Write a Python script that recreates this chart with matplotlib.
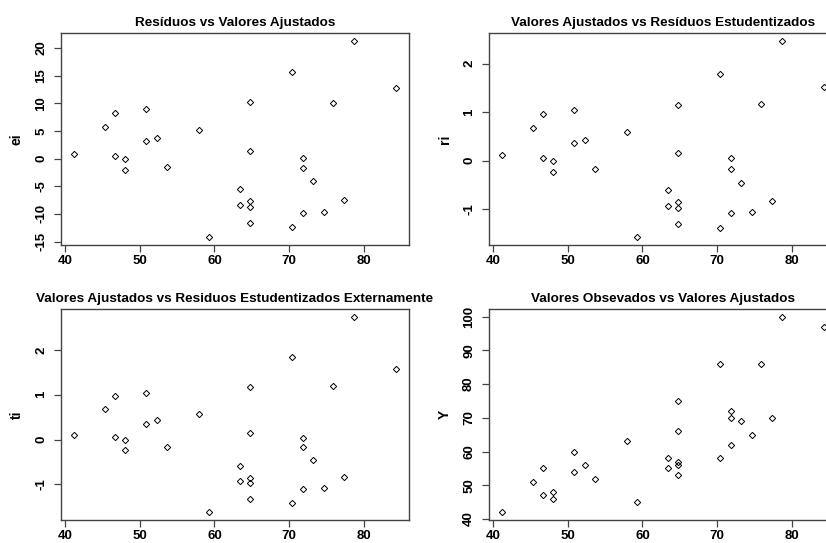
import numpy as np
import matplotlib
matplotlib.use("Agg")
import matplotlib.pyplot as plt

plt.rcParams['font.family'] = ['Liberation Sans', 'DejaVu Sans']
plt.rcParams['axes.unicode_minus'] = False

# valores ajustados
ajustados = [41.2, 45.3, 46.7, 46.7, 48.1, 48.1, 50.9, 50.9, 52.3, 53.7,
             57.9, 59.3, 63.4, 63.4, 64.8, 64.8, 64.8, 64.8, 64.8, 70.4,
             70.4, 71.8, 71.8, 71.8, 73.2, 74.6, 75.9, 77.3, 78.7, 84.3]
# valores observados
observados = [42, 51, 55, 47, 48, 46, 60, 54, 56, 52,
              63, 45, 58, 55, 75, 66, 57, 56, 53, 86,
              58, 72, 70, 62, 69, 65, 86, 70, 100, 97]
# residuos
residuos = [0.8, 5.7, 8.3, 0.4, -0.1, -2.0, 9.0, 3.1, 3.7, -1.6,
            5.2, -14.2, -5.5, -8.3, 10.2, 1.3, -7.7, -8.8, -11.7, 15.6,
            -12.3, 0.2, -1.7, -9.8, -4.0, -9.7, 10.1, -7.4, 21.3, 12.7]
# residuos estudentizados
r_est = [0.12, 0.67, 0.97, 0.05, -0.01, -0.24, 1.04, 0.36, 0.43, -0.18,
         0.59, -1.58, -0.60, -0.93, 1.15, 0.15, -0.86, -0.97, -1.31, 1.78,
         -1.39, 0.05, -0.18, -1.09, -0.46, -1.07, 1.16, -0.83, 2.47, 1.52]
# residuos estudentizados externamente
t_ext = [0.11, 0.68, 0.98, 0.05, 0.0, -0.23, 1.05, 0.35, 0.43, -0.17,
         0.58, -1.62, -0.59, -0.93, 1.17, 0.14, -0.85, -0.97, -1.32, 1.84,
         -1.42, 0.04, -0.17, -1.10, -0.46, -1.08, 1.19, -0.83, 2.74, 1.58]

paineis = [
    ("Resíduos vs Valores Ajustados", "ei", residuos, np.arange(-15, 21, 5)),
    ("Valores Ajustados vs Resíduos Estudentizados", "ri", r_est, [-1, 0, 1, 2]),
    ("Valores Ajustados vs Residuos Estudentizados Externamente", "ti", t_ext, [-1, 0, 1, 2]),
    ("Valores Obsevados vs Valores Ajustados", "Y", observados, np.arange(40, 101, 10)),
]

W, H = 826, 543
fig = plt.figure(figsize=(W / 100, H / 100), dpi=100)
caixas = [(61, 33, 348, 212), (489, 33, 348, 212),
          (61, 309, 348, 211), (489, 309, 348, 211)]


def faixa(v):
    lo, hi = min(v), max(v)
    d = (hi - lo) * 0.04
    return lo - d, hi + d


for (titulo, ylab, yv, yt), (l, t, w, h) in zip(paineis, caixas):
    ax = fig.add_axes([l / W, 1 - (t + h) / H, w / W, h / H])
    ax.plot(ajustados, yv, linestyle='none', marker='D', markersize=3.2,
            mfc='none', mec='black', mew=0.7)
    ax.set_xlim(faixa(ajustados))
    ax.set_ylim(faixa(yv))
    ax.set_xticks([40, 50, 60, 70, 80])
    ax.set_yticks(yt)
    for s in ax.spines.values():
        s.set_color('#444444')
        s.set_linewidth(1.0)
    ax.tick_params(length=5, width=0.9, color='#444444', labelsize=9.5)
    ax.tick_params(axis='x', pad=2)
    ax.tick_params(axis='y', pad=5)
    for lab in ax.get_xticklabels():
        lab.set_fontweight('bold')
    for lab in ax.get_yticklabels():
        lab.set_fontweight('bold')
        lab.set_rotation(90)
        lab.set_va('center')
    ax.set_ylabel(ylab, fontsize=10, fontweight='bold', labelpad=8)
    ax.set_title(titulo, fontsize=9.7, fontweight='bold', pad=5)

fig.savefig("out.png", dpi=100)
